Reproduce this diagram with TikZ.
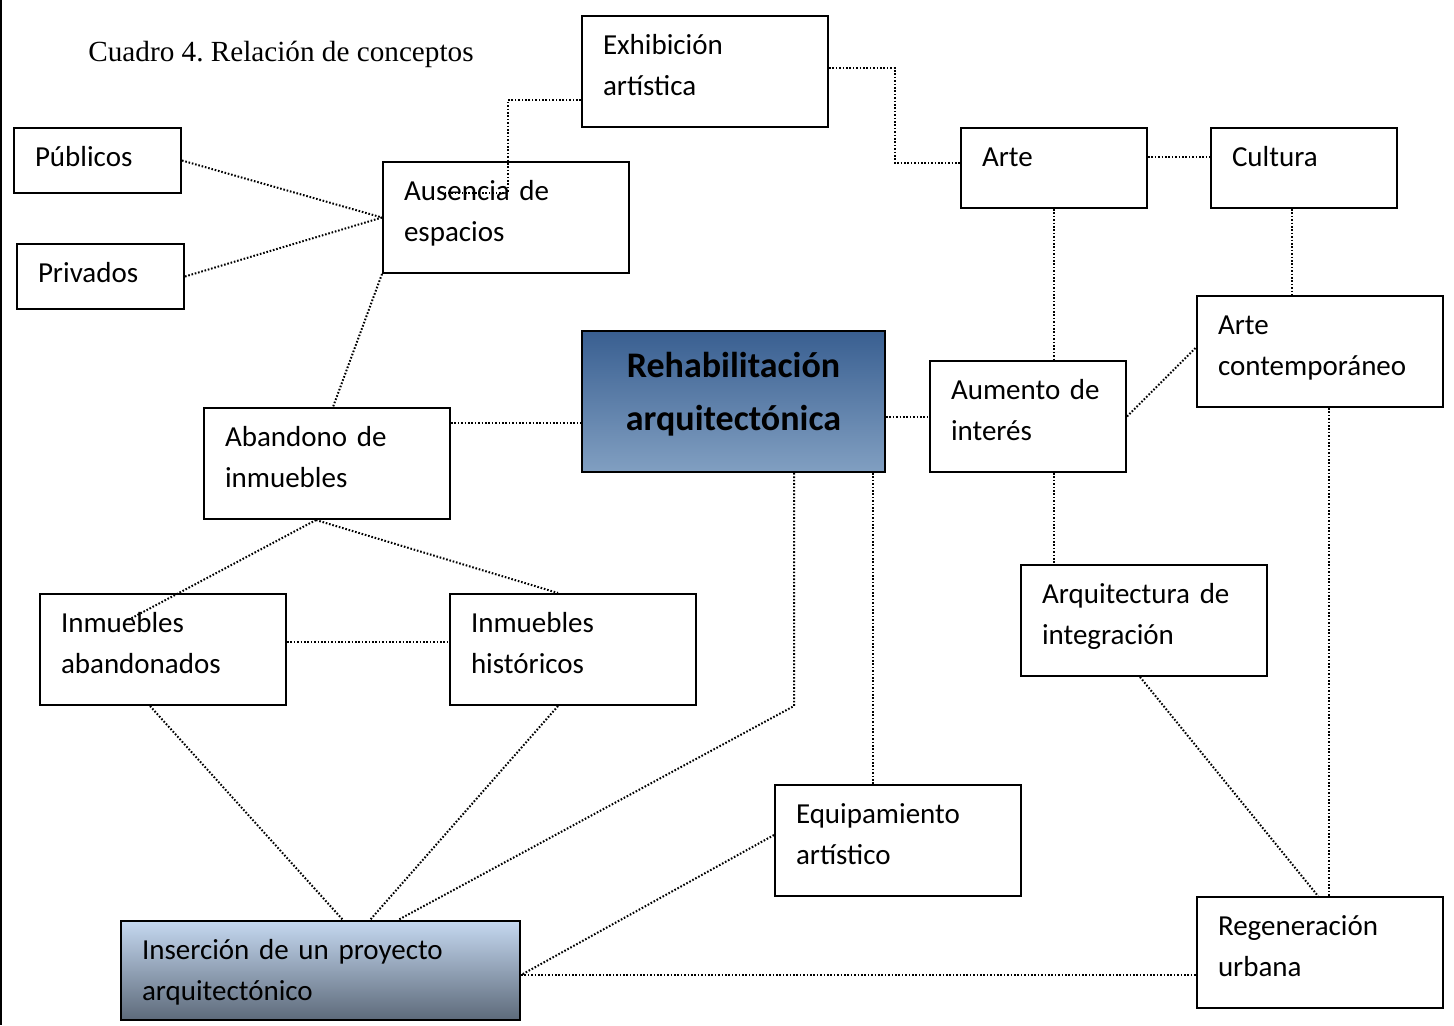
\documentclass[tikz,border=0pt]{standalone}
\usepackage{fontspec}
\setmainfont[WordSpace=0.8]{Carlito}
\newfontfamily\cuadrofont{Liberation Serif}
\definecolor{rehabtop}{RGB}{57,95,145}
\definecolor{rehabbot}{RGB}{129,159,193}
\definecolor{insertop}{RGB}{197,216,240}
\definecolor{inserbot}{RGB}{93,106,122}
\frenchspacing

\begin{document}
\begin{tikzpicture}[x=0.5pt,y=-0.5pt]
				\tikzstyle{concept}=[draw,rectangle,line width=1pt,align=left,inner xsep=10.5pt,inner ysep=0pt,text height=19pt,font=\fontsize{14.5}{20.5}\selectfont]
				\tikzstyle{widebox}=[concept,text width=102pt,text depth=36.5pt]
				\tikzstyle{smallbox}=[concept,text width=62.5pt,text depth=13.5pt]
				\tikzstyle{midbox}=[concept,text width=72pt,text depth=21pt]
				\tikzstyle{link}=[line width=1pt,dash pattern=on 0.8pt off 0.9pt]
				
				\useasboundingbox (0,0) rectangle (1454,1025);
				\draw[line width=1pt] (1,0) -- (1,1025);
				
				\node[anchor=base west,inner sep=0pt,font=\cuadrofont\fontsize{14.6}{17}\selectfont] (titulo) at (88,61) {Cuadro 4. Relación de conceptos};
				
				\node[widebox] (exh) at (705,71.5) {Exhibición\\artística};
				\node[smallbox] (pub) at (97.5,160.5) {Públicos};
				\node[smallbox] (priv) at (100.5,276.5) {Privados};
				\node[widebox] (aus) at (506,217.5) {Ausencia de\\espacios};
				\node[midbox] (arte) at (1054,168) {Arte};
				\node[midbox] (cult) at (1304,168) {Cultura};
				\node[widebox] (artc) at (1320,351.5) {Arte\\contemporáneo};
				\node[concept,text width=130.5pt,align=center,text height=23pt,text depth=47.5pt,
					top color=rehabtop,bottom color=rehabbot,
					font=\fontsize{18}{26.5}\selectfont\bfseries] (rehab) at (733.5,401.5) {Rehabilitación\\arquitectónica};
				\node[concept,text width=77pt,text depth=36.5pt] (aum) at (1028,416.5) {Aumento de\\interés};
				\node[widebox] (aband) at (327,463.5) {Abandono de\\inmuebles};
				\node[widebox] (inab) at (163,649.5) {Inmuebles\\abandonados};
				\node[widebox] (inhist) at (573,649.5) {Inmuebles\\históricos};
				\node[widebox] (arqi) at (1144,620.5) {Arquitectura de\\integración};
				\node[widebox] (equip) at (898,840.5) {Equipamiento\\artístico};
				\node[concept,text width=178.5pt,text depth=30.5pt,
					top color=insertop,bottom color=inserbot] (ins) at (320.5,970.5) {Inserción de un proyecto\\arquitectónico};
				\node[widebox] (regen) at (1320,952.5) {Regeneración\\urbana};
				
				\coordinate (auscut) at (508,193);
				\coordinate (ausin) at (445,193);
				\coordinate (abr) at ([yshift=-8pt]aband.north east);
				\coordinate (abs) at ([xshift=-5.5pt]aband.south);
				\coordinate (inabin) at (128,620);
				\coordinate (culs) at ([xshift=-6pt]cult.south);
				\coordinate (artcs) at ([xshift=4.5pt]artc.south);
				\coordinate (rhl) at ([xshift=30.25pt]rehab.south);
				\coordinate (rhr) at ([xshift=69.75pt]rehab.south);
				\coordinate (rhbend) at (794,706);
				
				\draw[link] ([yshift=14pt]exh.south west) -| (auscut) -- (ausin);
				\draw[link] (pub.east) -- (aus.west);
				\draw[link] (priv.east) -- (aus.west);
				\draw[link] (aus.south west) -- ([xshift=3pt]aband.north);
				\draw[link] (abr) -- (abr -| rehab.west);
				\draw[link] ([yshift=1.75pt]exh.east) -- ++(66,0) |- ([yshift=2.5pt]arte.west);
				\draw[link] ([yshift=5.5pt]arte.east) -- ([yshift=5.5pt]cult.west);
				\draw[link] (arte.south) -- (arte.south |- aum.north);
				\draw[link] (culs) -- (culs |- artc.north);
				\draw[link] (aum.west -| rehab.east) -- (aum.west);
				\draw[link] (aum.east) -- ([yshift=2pt]artc.west);
				\draw[link] (arte.south |- aum.south) -- (arte.south |- arqi.north);
				\draw[link] (artcs) -- (artcs |- regen.north);
				\draw[link] ([xshift=-2pt]arqi.south) -- ([xshift=-1pt]regen.north);
				\draw[link] (abs) -- (inabin);
				\draw[link] (abs) -- ([xshift=-7.5pt]inhist.north);
				\draw[link] ([yshift=3.75pt]inab.east) -- ([yshift=3.75pt]inhist.west);
				\draw[link] ([xshift=-6.5pt]inab.south) -- ([xshift=11.25pt]ins.north);
				\draw[link] ([xshift=-7.5pt]inhist.south) -- ([xshift=24.75pt]ins.north);
				\draw[link] (rhl) -- (rhbend) -- ([xshift=38.75pt]ins.north);
				\draw[link] (rhr) -- (rhr |- equip.north);
				\draw[link] ([yshift=2.75pt]equip.west) -- ([yshift=-2.25pt]ins.east);
				\draw[link] ([yshift=-2.25pt]ins.east) -- ([yshift=-2.25pt]ins.east -| regen.west);
				
\end{tikzpicture}
\end{document}
